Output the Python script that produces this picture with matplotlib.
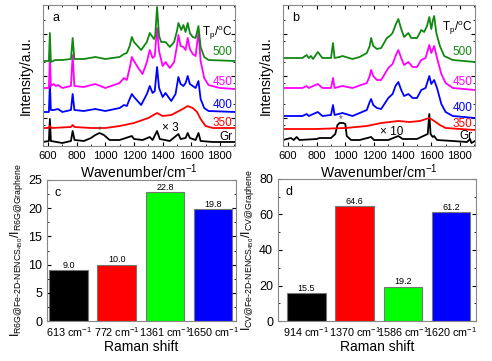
import numpy as np
import matplotlib
matplotlib.use("Agg")
import matplotlib.pyplot as plt
from matplotlib.ticker import MultipleLocator, AutoMinorLocator

plt.rcParams['font.family'] = ['Liberation Sans', 'DejaVu Sans']
plt.rcParams['mathtext.fontset'] = 'custom'
plt.rcParams['mathtext.rm'] = 'Liberation Sans'
plt.rcParams['mathtext.it'] = 'Liberation Sans'
plt.rcParams['mathtext.bf'] = 'Liberation Sans:bold'
plt.rcParams['mathtext.default'] = 'regular'

# ---- panel a : R6G spectra (wavenumber, intensity incl. offset) ----
a_gr_x = [565, 606, 613, 620, 660, 700, 760, 772, 785, 850, 900, 930, 960, 990, 1030, 1100, 1185, 1200, 1260,
          1310, 1330, 1361, 1380, 1450, 1510, 1525, 1560, 1575, 1590, 1630, 1650, 1665, 1750, 1905]
a_gr_y = [4, 5, 27, 5, 4, 3, 5, 15, 6, 5, 8, 11, 13, 11, 6, 6, 10, 7, 6,
          9, 6, 15, 7, 5, 12, 7, 8, 13, 8, 6, 13, 5, 4, 4]
a_350_x = [565, 600, 613, 625, 760, 772, 785, 900, 1000, 1100, 1200, 1300, 1361, 1400, 1460, 1500, 1540, 1575,
           1610, 1640, 1665, 1700, 1750, 1905]
a_350_y = [18, 18, 20, 18, 19, 21, 19, 18, 18, 20, 23, 28, 33, 30, 31, 34, 37, 40,
           38, 34, 27, 20, 18, 18]
a_400_x = [565, 606, 613, 620, 640, 670, 700, 760, 772, 784, 850, 930, 1000, 1100, 1130, 1150, 1170, 1185, 1200,
           1250, 1290, 1310, 1330, 1345, 1361, 1375, 1400, 1420, 1460, 1490, 1510, 1525, 1545, 1560, 1575, 1590,
           1610, 1630, 1650, 1665, 1690, 1720, 1905]
a_400_y = [34, 34, 62, 36, 36, 37, 34, 36, 52, 36, 35, 37, 35, 38, 41, 40, 47, 52, 49,
           41, 52, 60, 53, 55, 79, 58, 49, 53, 45, 52, 69, 62, 60, 63, 70, 62,
           60, 58, 65, 47, 38, 35, 34]
a_450_x = [565, 606, 613, 620, 640, 655, 670, 700, 760, 772, 784, 850, 930, 1000, 1100, 1130, 1150, 1170, 1185,
           1200, 1230, 1260, 1290, 1310, 1330, 1345, 1361, 1375, 1400, 1420, 1450, 1480, 1500, 1510, 1525, 1545,
           1560, 1575, 1590, 1610, 1630, 1650, 1665, 1690, 1720, 1800, 1905]
a_450_y = [58, 58, 89, 60, 62, 60, 61, 58, 60, 91, 60, 59, 62, 58, 63, 68, 66, 78, 89,
           85, 78, 72, 84, 96, 88, 90, 118, 95, 80, 84, 78, 84, 100, 111, 100, 99,
           96, 108, 97, 92, 90, 114, 85, 68, 61, 58, 57]
a_500_x = [565, 606, 613, 620, 650, 700, 760, 772, 784, 850, 930, 1000, 1100, 1130, 1150, 1170, 1185, 1200, 1250,
           1290, 1310, 1340, 1348, 1361, 1375, 1390, 1420, 1450, 1480, 1500, 1510, 1530, 1545, 1560, 1575, 1590,
           1610, 1630, 1650, 1665, 1690, 1720, 1905]
a_500_y = [85, 85, 113, 84, 86, 86, 87, 108, 87, 87, 89, 87, 89, 92, 93, 100, 109, 104, 96,
           104, 113, 107, 110, 139, 110, 104, 104, 99, 104, 115, 123, 116, 121, 114, 123, 113,
           109, 108, 120, 99, 89, 86, 85]

# ---- panel b : CV spectra ----
b_gr_x = [565, 620, 640, 660, 680, 800, 820, 900, 930, 945, 960, 985, 1000, 1010, 1040, 1100, 1180, 1200, 1300,
          1370, 1400, 1500, 1575, 1586, 1595, 1610, 1620, 1640, 1750, 1850, 1870, 1880, 1905]
b_gr_y = [6, 8, 6, 9, 6, 7, 8, 8, 12, 21, 23, 23, 22, 10, 6, 6, 9, 6, 6,
          10, 7, 7, 12, 32, 12, 9, 10, 6, 5, 4, 7, 3, 5]
b_350_x = [565, 800, 1000, 1150, 1250, 1370, 1450, 1520, 1586, 1620, 1660, 1700, 1905]
b_350_y = [17, 17, 18, 20, 23, 25, 24, 25, 28, 25, 21, 18, 16]
b_400_x = [565, 700, 730, 745, 760, 808, 840, 900, 914, 925, 980, 1050, 1150, 1170, 1180, 1195, 1220, 1250,
           1300, 1330, 1350, 1370, 1390, 1410, 1440, 1470, 1500, 1530, 1560, 1586, 1600, 1620, 1640, 1670,
           1700, 1750, 1905]
b_400_y = [30, 30, 32, 30, 31, 34, 30, 31, 41, 31, 33, 30, 36, 44, 47, 41, 38, 37,
           48, 52, 60, 64, 56, 50, 52, 48, 48, 56, 58, 70, 62, 66, 58, 42,
           34, 30, 28]
b_450_x = [565, 700, 730, 745, 760, 808, 840, 900, 914, 925, 980, 1050, 1150, 1170, 1180, 1195, 1220, 1250,
           1300, 1330, 1350, 1370, 1390, 1410, 1440, 1470, 1500, 1530, 1560, 1586, 1600, 1620, 1640, 1670,
           1700, 1750, 1905]
b_450_y = [58, 58, 60, 58, 59, 62, 58, 58, 68, 58, 60, 58, 63, 70, 76, 70, 66, 66,
           78, 82, 90, 96, 88, 81, 84, 79, 79, 86, 88, 101, 93, 100, 88, 72,
           63, 58, 56]
b_500_x = [565, 700, 730, 745, 760, 775, 808, 840, 900, 914, 925, 960, 980, 1050, 1100, 1150, 1170, 1180, 1195,
           1220, 1250, 1290, 1310, 1330, 1350, 1370, 1390, 1410, 1440, 1460, 1500, 1530, 1550, 1570, 1586,
           1600, 1610, 1620, 1635, 1660, 1690, 1750, 1905]
b_500_y = [88, 88, 91, 88, 90, 87, 94, 88, 88, 103, 88, 89, 90, 87, 89, 93, 100, 108, 100,
           97, 98, 108, 110, 113, 121, 127, 117, 109, 113, 108, 108, 116, 114, 120, 129,
           117, 125, 130, 113, 100, 90, 86, 84]

# ---- bar panels ----
c_labels = ['613 cm$^{-1}$', '772 cm$^{-1}$', '1361 cm$^{-1}$', '1650 cm$^{-1}$']
c_vals = [9.0, 10.0, 22.8, 19.8]
d_labels = ['914 cm$^{-1}$', '1370 cm$^{-1}$', '1586 cm$^{-1}$', '1620 cm$^{-1}$']
d_vals = [15.5, 64.6, 19.2, 61.2]

bar_colors = ['black', '#ff0000', '#00ff00', '#0000ff']
temps = ['Gr', '350', '400', '450', '500']
line_colors = ['black', '#ff0000', '#0000ff', '#ff00ff', '#118811']

W, H = 492, 361
fig = plt.figure(figsize=(W / 100, H / 100), dpi=100)


def px_axes(l, t, r, b):
    return fig.add_axes([l / W, (H - b) / H, (r - l) / W, (b - t) / H])


def spectra(ax, curves, letter, lab_y, times, times_xy, star_xy):
    for (x, y), c in zip(curves, line_colors):
        ax.plot(x, y, color=c, lw=1.3)
    ax.set_xlim(565, 1905)
    ax.set_ylim(0, 141)
    ax.xaxis.set_major_locator(MultipleLocator(200))
    ax.xaxis.set_minor_locator(MultipleLocator(100))
    ax.set_yticks([28, 70, 112])
    ax.yaxis.set_minor_locator(MultipleLocator(21))
    ax.tick_params(which='both', direction='in', top=True, right=True, labelsize=8)
    ax.tick_params(which='major', length=3)
    ax.tick_params(which='minor', length=1.5)
    ax.set_yticklabels([])
    for s in ax.spines.values():
        s.set_color('#888888')
    ax.set_xlabel('Wavenumber/cm$^{-1}$', fontsize=10, labelpad=1)
    ax.set_ylabel('Intensity/a.u.', fontsize=10, labelpad=4)
    ax.text(0.05, 0.95, letter, transform=ax.transAxes, fontsize=9, va='top', ha='left')
    ax.text(0.985, lab_y[-1], 'T$_p$/$^o$C', transform=ax.get_yaxis_transform(),
            ha='right', va='center', fontsize=8.5)
    for t, c, yy in zip(temps, line_colors, lab_y[:-1]):
        ax.text(0.985, yy, t, transform=ax.get_yaxis_transform(), ha='right', va='center',
                fontsize=8.5, color=c)
    ax.text(times_xy[0], times_xy[1], times, fontsize=8.5, ha='left', va='center')
    ax.text(star_xy[0], star_xy[1], '*', fontsize=7, ha='center', va='center', color='#555555')


ax_a = px_axes(43, 5, 235, 146)
spectra(ax_a, [(a_gr_x, a_gr_y), (a_350_x, a_350_y), (a_400_x, a_400_y), (a_450_x, a_450_y), (a_500_x, a_500_y)],
        'a', [9, 23, 41, 64, 94, 113], '\u00d7 3', (1395, 18), (960, 16))

ax_b = px_axes(283, 5, 475, 146)
spectra(ax_b, [(b_gr_x, b_gr_y), (b_350_x, b_350_y), (b_400_x, b_400_y), (b_450_x, b_450_y), (b_500_x, b_500_y)],
        'b', [10, 22, 38, 64, 94, 118], '\u00d7 10', (1240, 14), (965, 27))


def bars(ax, labels, vals, letter, ylim, major, ylabel):
    pos = np.arange(len(vals))
    ax.bar(pos, vals, width=0.8, color=bar_colors, edgecolor='#777777', linewidth=0.8)
    for p, v in zip(pos, vals):
        ax.text(p, v + ylim * 0.005, f'{v:.1f}', ha='center', va='bottom', fontsize=6.5)
    ax.set_xticks(pos)
    ax.set_xticklabels(labels, fontsize=7.8)
    ax.set_ylim(0, ylim)
    ax.yaxis.set_major_locator(MultipleLocator(major))
    ax.yaxis.set_minor_locator(AutoMinorLocator(2))
    ax.tick_params(axis='y', which='both', direction='in', right=True, labelsize=9)
    ax.tick_params(axis='y', which='major', length=3)
    ax.tick_params(axis='y', which='minor', length=1.5)
    ax.tick_params(axis='x', length=0, pad=3)
    for s in ax.spines.values():
        s.set_color('#888888')
    ax.set_xlabel('Raman shift', fontsize=10, labelpad=1)
    ax.set_ylabel(ylabel, fontsize=9, labelpad=2)
    ax.text(0.04, 0.95, letter, transform=ax.transAxes, fontsize=9, va='top', ha='left')


ax_c = px_axes(47, 180, 236, 321)
bars(ax_c, c_labels, c_vals, 'c', 25, 5,
     r'$I_{R6G@Fe\text{-}2D\text{-}NENCS_{450}}/I_{R6G@Graphene}$')
ax_c.set_xlim(-0.45, 3.48)

ax_d = px_axes(278, 179, 476, 321)
bars(ax_d, d_labels, d_vals, 'd', 80, 20,
     r'$I_{CV@Fe\text{-}2D\text{-}NENCS_{450}}/I_{CV@Graphene}$')
ax_d.set_xlim(-0.59, 3.52)

fig.savefig('out.png', dpi=100)
